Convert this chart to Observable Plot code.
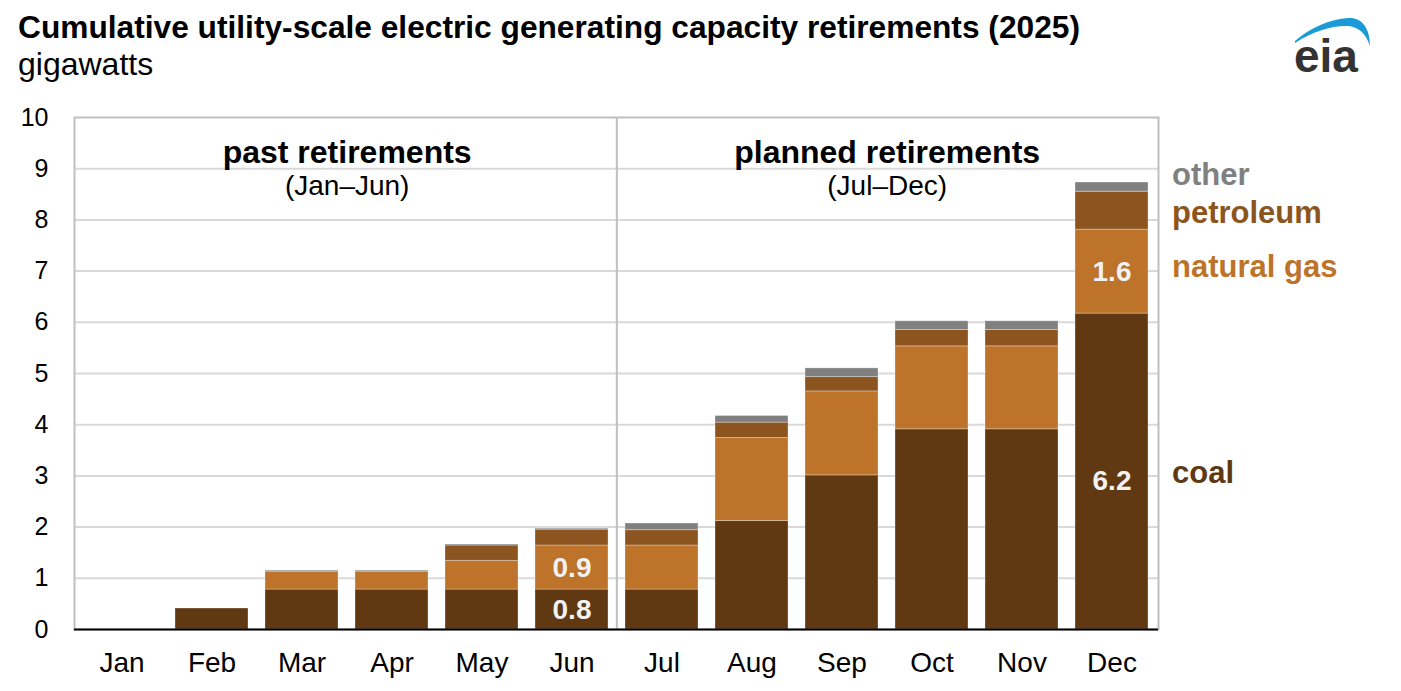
<!DOCTYPE html>
<html><head><meta charset="utf-8">
<script src="https://cdn.jsdelivr.net/npm/d3@7"></script>
<script src="https://cdn.jsdelivr.net/npm/@observablehq/plot@0.6"></script>
<style>
body{margin:0;background:#fff;font-family:"Liberation Sans",Arial,sans-serif;}
#wrap{position:relative;width:1401px;height:691px;overflow:hidden;background:#fff}
#title{position:absolute;left:18px;top:10px;font-weight:bold;font-size:31.7px;line-height:34px;color:#000;white-space:nowrap}
#sub{position:absolute;left:18px;top:47px;font-size:32px;line-height:34px;color:#000}
#chart{position:absolute;left:0;top:90px}
#logo{position:absolute;left:1280px;top:0}
</style></head><body>
<div id="wrap">
<div id="title">Cumulative utility-scale electric generating capacity retirements (2025)</div>
<div id="sub">gigawatts</div>
<svg id="logo" width="110" height="85">
  <path d="M15,41 C30,28 50,19 68,18 C81,17 90,27 90,46 C86,34 79,26 66,26 C50,26 32,32 15,43 Z" fill="#1a9bd7"/>
  <text x="14" y="72" font-size="46" font-weight="bold" fill="#333" font-family="Liberation Sans, Arial, sans-serif">eia</text>
</svg>
<div id="chart"></div>
</div>
<script>
const months = ["Jan","Feb","Mar","Apr","May","Jun","Jul","Aug","Sep","Oct","Nov","Dec"];
const fuels = ["coal","natural gas","petroleum","other"];
const coal      = [0, 0.41, 0.78, 0.78, 0.78, 0.78, 0.78, 2.12, 3.01, 3.91, 3.91, 6.17];
const gas       = [0, 0,    0.35, 0.35, 0.56, 0.86, 0.86, 1.62, 1.64, 1.62, 1.62, 1.64];
const petroleum = [0, 0,    0,    0,    0.30, 0.31, 0.30, 0.30, 0.28, 0.32, 0.32, 0.74];
const other     = [0, 0,    0.02, 0.02, 0.02, 0.02, 0.13, 0.13, 0.17, 0.17, 0.17, 0.18];
const fuelColors = ["#603913","#bd732a","#8c5520","#808080"];
const yTicks = [0,1,2,3,4,5,6,7,8,9,10];
const gridTicks = [1,2,3,4,5,6,7,8,9];
const valueLabels = [
  {month:"Jun", fuel:"coal", text:"0.8"},
  {month:"Jun", fuel:"natural gas", text:"0.9"},
  {month:"Dec", fuel:"natural gas", text:"1.6"}
];
const lowLabels = [{month:"Dec", fuel:"coal", text:"6.2"}];
const groups = [
  {title:"past retirements", range:"(Jan\u2013Jun)", at:"Mar"},
  {title:"planned retirements", range:"(Jul\u2013Dec)", at:"Sep"}
];

const series = {"coal": coal, "natural gas": gas, "petroleum": petroleum, "other": other};
const data = fuels.flatMap(f => months.map((m, i) => ({month: m, fuel: f, value: series[f][i]})));
function mid(month, fuel) {
  const i = months.indexOf(month);
  let b = 0;
  for (const f of fuels) { const v = series[f][i]; if (f === fuel) return b + v / 2; b += v; }
}
const legendMain = ["coal","petroleum"].map(f => ({fuel: f, y: mid("Dec", f)}));
const legendGas = [{fuel: "natural gas", y: mid("Dec", "natural gas")}];
const legendOther = [{fuel: "other", y: mid("Dec", "other")}];

const W = 1401, H = 601, ml = 74, mr = 243, mt = 27, mb = 62;
const step = (W - ml - mr) / months.length;
const font = "Liberation Sans, Arial, sans-serif";
const legendOpts = {x: () => "Dec", y: "y", text: "fuel", fill: "fuel", textAnchor: "start",
  dx: 60, fontWeight: "bold", fontSize: 31};

const chart = Plot.plot({
  width: W, height: H,
  marginLeft: ml, marginRight: mr, marginTop: mt, marginBottom: mb,
  style: {fontFamily: font, background: "#fff", overflow: "visible", color: "#000"},
  x: {domain: months, paddingInner: 0.19, paddingOuter: 0.095, label: null},
  y: {domain: [0, 10], label: null},
  color: {domain: fuels, range: fuelColors},
  marks: [
    Plot.ruleY(gridTicks, {stroke: "#d9d9d9", strokeWidth: 2}),
    Plot.frame({stroke: "#bfbfbf", strokeWidth: 2}),
    Plot.ruleX(["Jul"], {dx: -step / 2, stroke: "#bfbfbf", strokeWidth: 2}),
    Plot.barY(data, Plot.stackY({x: "month", y: "value", fill: "fuel", order: fuels,
      stroke: "#fff", strokeOpacity: 0.3, strokeWidth: 1})),
    Plot.ruleY([0], {stroke: "#000", strokeWidth: 2}),
    Plot.axisY(yTicks, {tickSize: 0, tickPadding: 26, fontSize: 25, label: null, tickFormat: d => String(d)}),
    Plot.axisX({tickSize: 0, tickPadding: 23, fontSize: 28, label: null}),
    Plot.text(valueLabels, {x: "month", y: d => mid(d.month, d.fuel), text: "text",
      fill: "#f2f2f2", fontWeight: "bold", fontSize: 28}),
    Plot.text(lowLabels, {x: "month", y: d => mid(d.month, d.fuel), text: "text", dy: 9,
      fill: "#f2f2f2", fontWeight: "bold", fontSize: 28}),
    Plot.text(groups, {x: "at", frameAnchor: "top", lineAnchor: "middle", text: "title", dx: step / 2, dy: 35,
      fontWeight: "bold", fontSize: 32, fill: "#000"}),
    Plot.text(groups, {x: "at", frameAnchor: "top", lineAnchor: "middle", text: "range", dx: step / 2, dy: 69,
      fontSize: 28, fill: "#000"}),
    Plot.text(legendMain, {...legendOpts, dy: 2}),
    Plot.text(legendGas, {...legendOpts, dy: -5}),
    Plot.text(legendOther, {...legendOpts, dy: -12})
  ]
});
document.getElementById("chart").appendChild(chart);
</script>
</body></html>
